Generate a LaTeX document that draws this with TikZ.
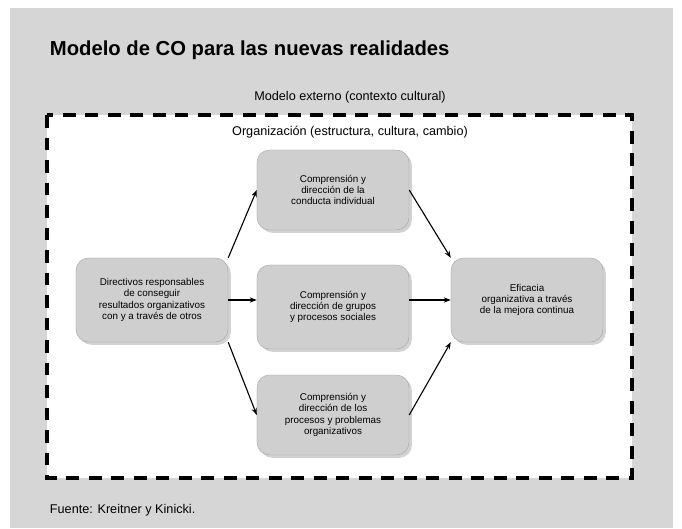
\documentclass[tikz,border=0pt]{standalone}
\usepackage{fontspec}
\setmainfont{Liberation Sans}
\usetikzlibrary{positioning,arrows.meta,shadows}
\definecolor{coPanel}{HTML}{D6D6D6}
\definecolor{coBox}{HTML}{CFCFCF}
\begin{document}
\begin{tikzpicture}[x=0.025cm,y=-0.025cm,
  caja/.style={rounded corners=9pt, fill=coBox, draw=coBox!80!black, line width=0.3pt,
    drop shadow={shadow xshift=2pt, shadow yshift=-2pt, fill=gray!70},
    minimum width=3.8cm, minimum height=2.1cm, align=center, font=\scriptsize, inner sep=2pt},
  flecha/.style={-{Stealth[length=5pt]}, thick}
]
  \useasboundingbox (0,0) rectangle (682,528);
  \fill[coPanel] (10,8) rectangle (673,528);
  \fill[white] (47,115) rectangle (632,478);
  \draw[line width=3pt, dash pattern=on 9pt off 7pt] (47,115) rectangle (632,478);
  \node[anchor=west, font=\Large\bfseries] (titulo) at (45,50) {Modelo de CO para las nuevas realidades};
  \node[font=\small] (externo) at (350,97) {Modelo externo (contexto cultural)};
  \node[font=\small] (org) at (350,132) {Organización (estructura, cultura, cambio)};
  \node[anchor=west, font=\small] (fuente) at (45,510) {Fuente: Kreitner y Kinicki.};
  \node[caja] (dir) at (152,300) {Directivos responsables\\de conseguir\\resultados organizativos\\con y a través de otros};
  \node[caja, minimum height=2cm] (indiv) at (333,190) {Comprensión y\\dirección de la\\conducta individual};
  \node[caja] (grupos) at (333,307) {Comprensión y\\dirección de grupos\\y procesos sociales};
  \node[caja, minimum height=2cm] (proc) at (333,415) {Comprensión y\\dirección de los\\procesos y problemas\\organizativos};
  \node[caja] (efic) at (527,300) {Eficacia\\organizativa a través\\de la mejora continua};
  \draw[flecha] (dir.north east) -- (indiv.west);
  \draw[flecha] (dir.east) -- (dir.east -| grupos.west);
  \draw[flecha] (dir.south east) -- (proc.west);
  \draw[flecha] (indiv.east) -- (efic.north west);
  \draw[flecha] (efic.west -| grupos.east) -- (efic.west);
  \draw[flecha] (proc.east) -- (efic.south west);
\end{tikzpicture}
\end{document}
